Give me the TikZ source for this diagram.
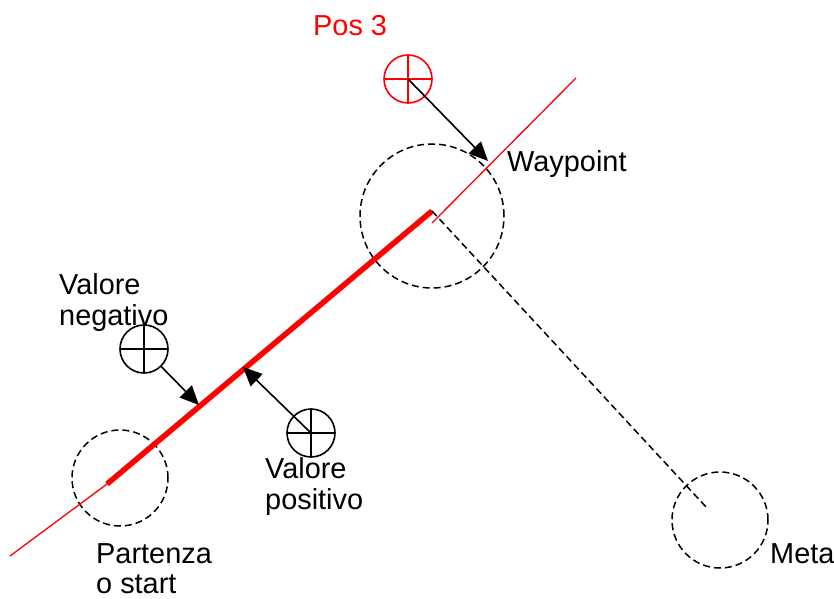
\documentclass[tikz,border=0pt]{standalone}
\usepackage{fontspec}
\setmainfont{Liberation Sans}
\usetikzlibrary{arrows.meta}
\tikzset{zone/.style={draw, circle, dash pattern=on 7bp off 4bp, line width=1.5bp, inner sep=0pt},
target/.style={draw, circle, line width=1.6bp, minimum size=48bp, inner sep=0pt,
  path picture={\draw[line width=1.6bp] (path picture bounding box.north) -- (path picture bounding box.south)
    (path picture bounding box.west) -- (path picture bounding box.east);}},
lbl/.style={anchor=north west, inner sep=0pt, align=left, font=\fontsize{29}{31}\selectfont},
line/.style={-{Triangle[length=19bp,width=17bp]}, line width=1.6bp}
}

\begin{document}
\begin{tikzpicture}[x=1bp,y=-1bp]
\useasboundingbox (0,0) rectangle (834,599);
% zone
\node[zone, minimum size=96bp] (start) at (120,478) {};
\node[zone, minimum size=144bp] (wp) at (432,216) {};
\node[zone, minimum size=96bp] (meta) at (720,520) {};
% traccia
\coordinate (t0) at (10,556);
\coordinate (t1) at (107,484);
\coordinate (t2) at (432,211);
\coordinate (t3) at (432,223);
\coordinate (t4) at (576,78);
\coordinate (m) at (707,508);
\draw[red, line width=1.3bp] (t0) -- (t1);
\draw[red, line width=5.5bp] (t1) -- (t2);
\draw[red, line width=1.3bp] (t3) -- (t4);
\draw[dash pattern=on 7bp off 4bp, line width=1.5bp] (t2) -- (m);
% posizioni
\node[target, red] (pos3) at (408,79) {};
\node[target] (neg) at (144,349) {};
\node[target] (pos) at (311,433) {};
\coordinate (h3) at (488,161);
\coordinate (hn) at (199,405);
\coordinate (hp) at (243,367);
\draw[line] (pos3.center) -- (h3);
\draw[line] (neg) -- (hn);
\draw[line] (pos.center) -- (hp);
% testi
\node[lbl, red] (l3) at (313,15) {Pos 3};
\node[lbl] (lwp) at (507,150) {Waypoint};
\node[lbl] (lneg) at (59,273) {Valore\\negativo};
\node[lbl] (lpos) at (265,457) {Valore\\positivo};
\node[lbl] (lstart) at (96,543) {Partenza\\o start};
\node[lbl] (lmeta) at (770,543) {Meta};
\end{tikzpicture}
\end{document}
